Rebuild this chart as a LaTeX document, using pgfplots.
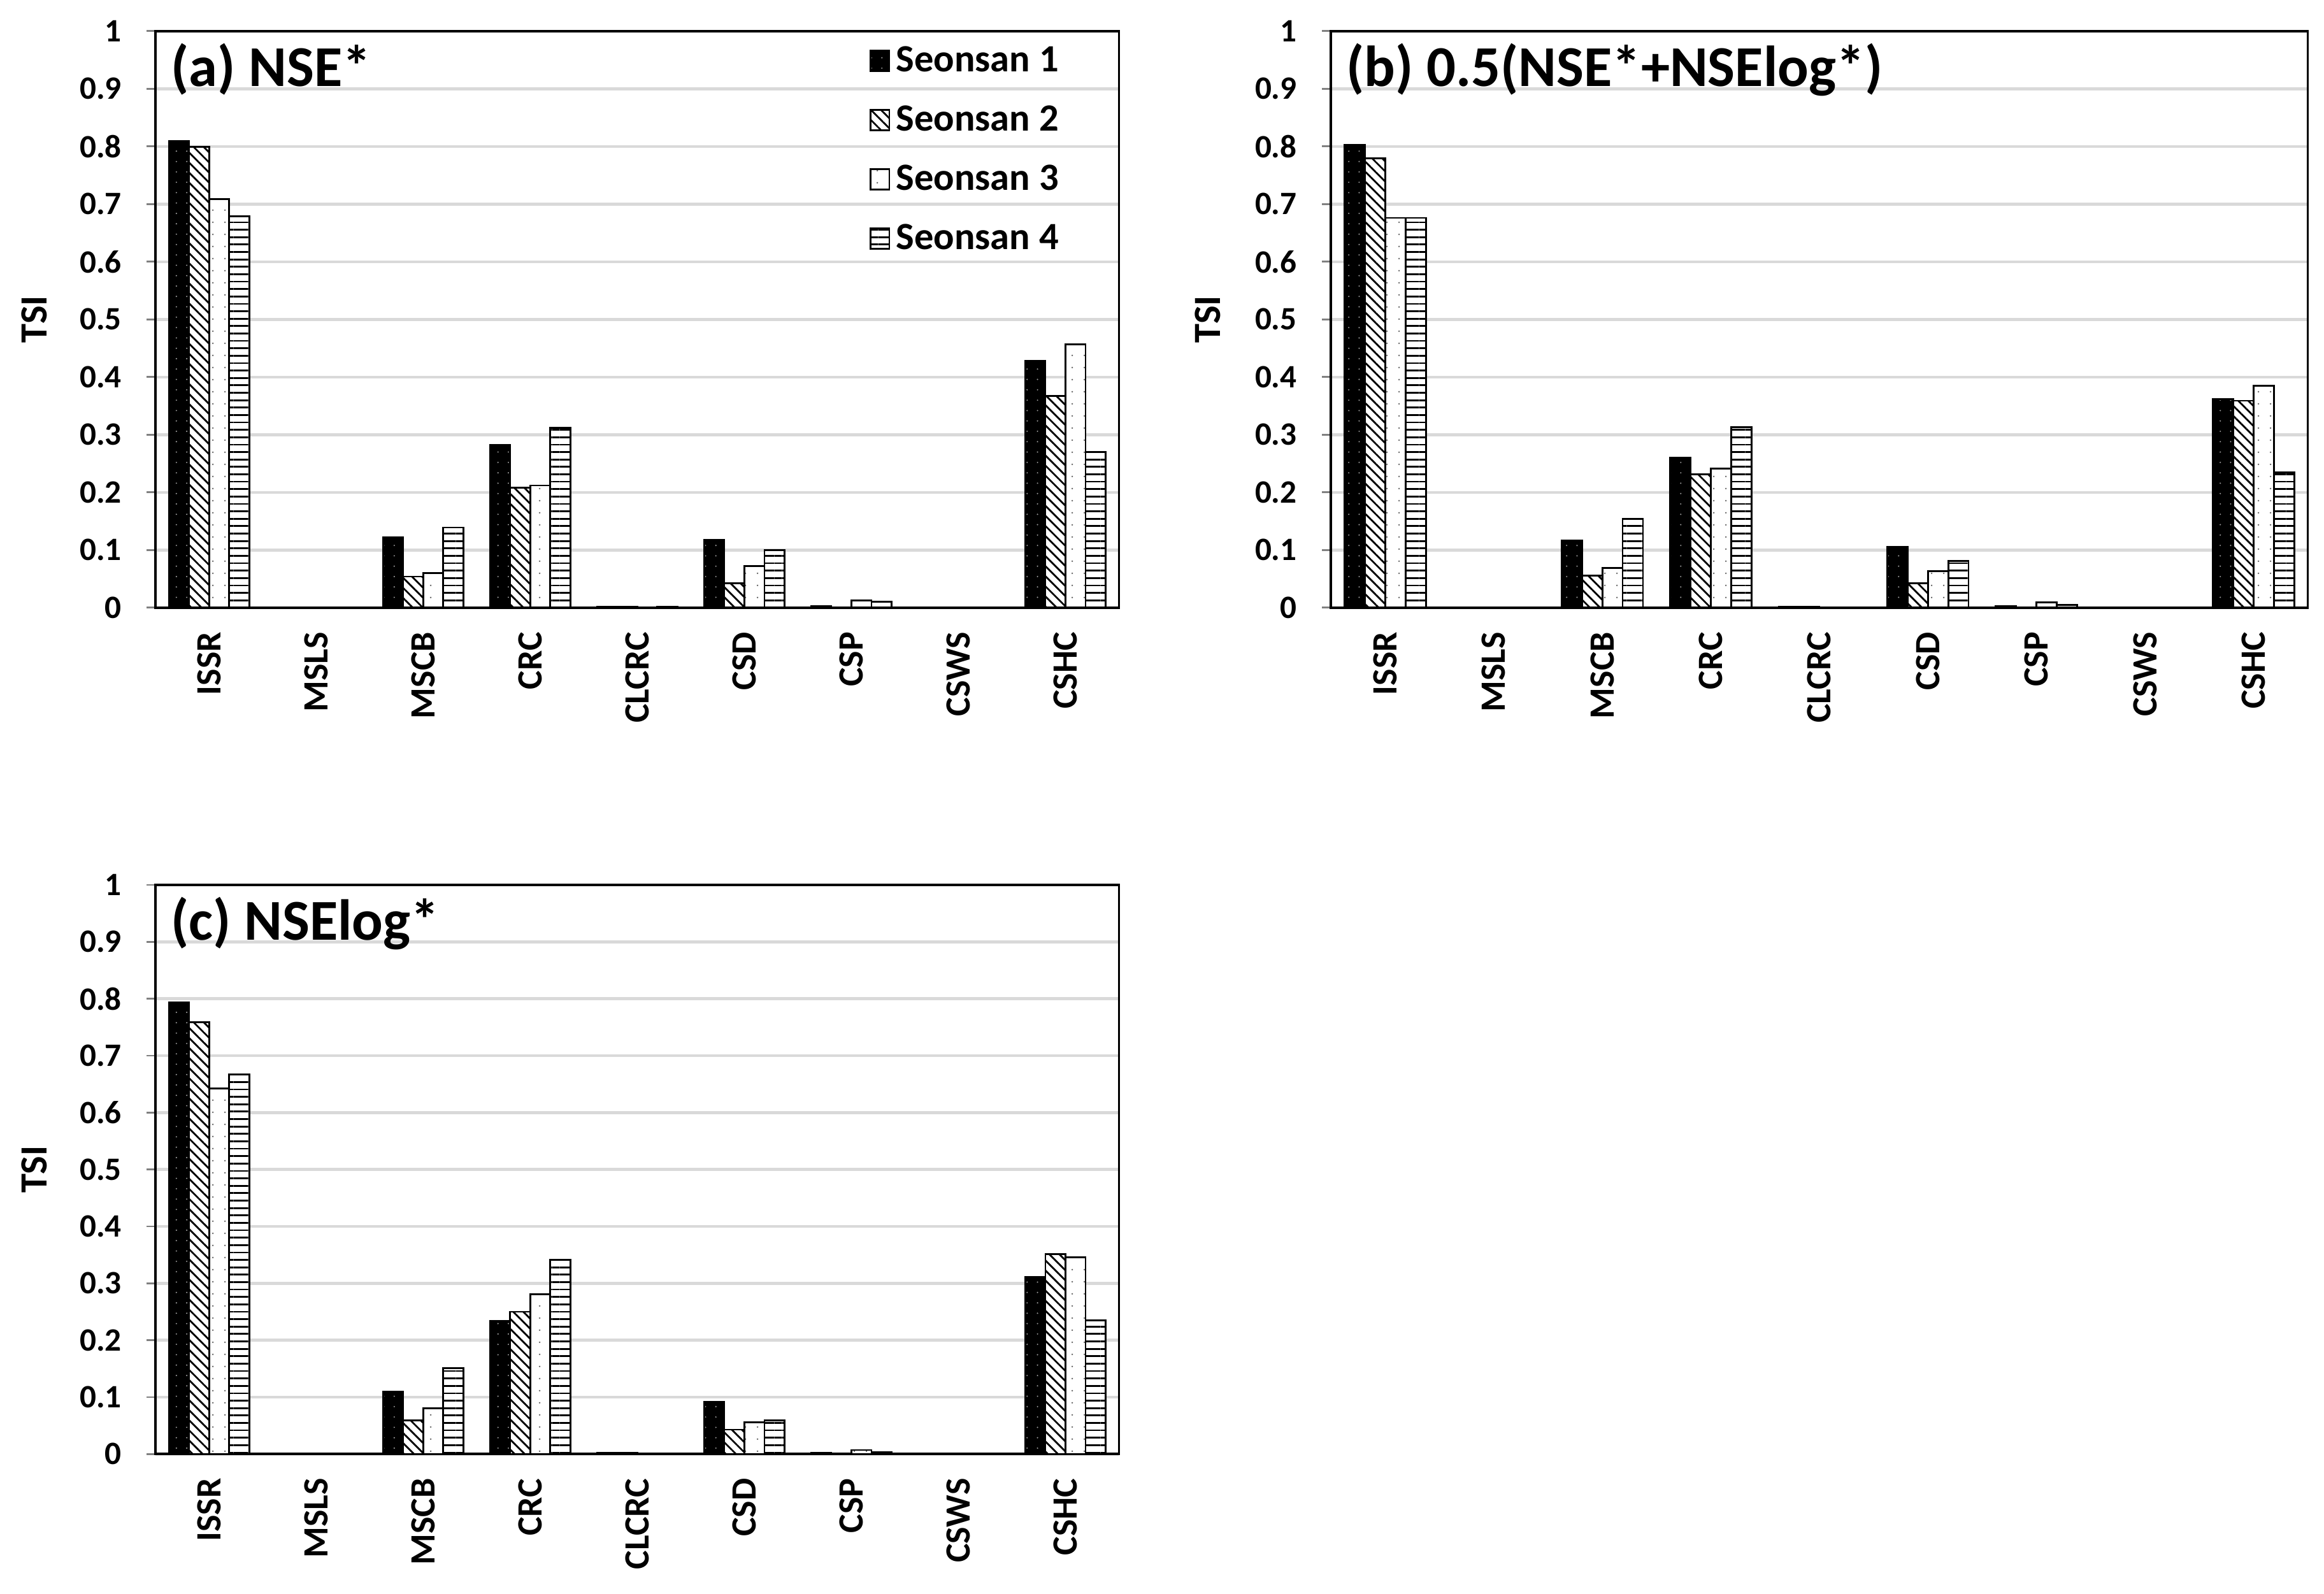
\documentclass[border=0pt]{standalone}
\usepackage{pgfplots}
\pgfplotsset{compat=1.18}
\usepackage{pgfplotstable}
\usetikzlibrary{patterns.meta}
\usepackage{fontspec}
\setmainfont{Carlito}

\pgfplotstableread{
x s1 s2 s3 s4
0 0.809 0.799 0.709 0.679
1 0.001 0.001 0.001 0.001
2 0.122 0.054 0.060 0.139
3 0.282 0.208 0.212 0.312
4 0.002 0.002 0.001 0.002
5 0.118 0.042 0.072 0.100
6 0.003 0.001 0.013 0.010
7 0.001 0.001 0.001 0.001
8 0.428 0.367 0.457 0.270
}\tableA
\pgfplotstableread{
x s1 s2 s3 s4
0 0.803 0.779 0.676 0.676
1 0.001 0.001 0.001 0.001
2 0.117 0.056 0.069 0.154
3 0.260 0.231 0.241 0.313
4 0.002 0.002 0.001 0.001
5 0.106 0.042 0.063 0.081
6 0.003 0.001 0.009 0.005
7 0.001 0.001 0.001 0.001
8 0.362 0.359 0.385 0.235
}\tableB
\pgfplotstableread{
x s1 s2 s3 s4
0 0.793 0.759 0.642 0.667
1 0.001 0.001 0.001 0.001
2 0.110 0.059 0.080 0.151
3 0.234 0.250 0.281 0.341
4 0.002 0.002 0.001 0.001
5 0.092 0.043 0.056 0.059
6 0.002 0.001 0.007 0.003
7 0.001 0.001 0.001 0.001
8 0.311 0.351 0.346 0.235
}\tableC

\pgfplotsset{
  tsi/.style={
    scale only axis, width=325pt, height=194.5pt,
    xmin=-0.5, xmax=8.5, ymin=0, ymax=1,
    ytick={0,0.1,0.2,0.3,0.4,0.5,0.6,0.7,0.8,0.9,1},
    ymajorgrids, major grid style={line width=1pt, black!15},
    axis line style={line width=0.8pt},
    xtick={0,1,2,3,4,5,6,7,8},
    xticklabels={ISSR,MSLS,MSCB,CRC,CLCRC,CSD,CSP,CSWS,CSHC},
    x tick label style={rotate=90, anchor=east, inner xsep=8pt, font=\bfseries\fontsize{12}{14}\selectfont},
    xtick style={draw=none},
    y tick label style={font=\bfseries\fontsize{11}{13}\selectfont, /pgf/number format/assume math mode=true, xshift=-5pt},
    ytick pos=left, ytick align=outside, major tick length=3pt,
    ytick style={line width=0.6pt},
    ylabel={TSI},
    every axis y label/.style={at={(axis description cs:-0.126,0.5)}, rotate=90, anchor=center, font=\bfseries\fontsize{13}{15}\selectfont},
    legend style={draw=none, fill=none, at={(axis description cs:0.944,0.985)}, anchor=north east,
      font=\bfseries\fontsize{13}{15}\selectfont, row sep=6pt, inner sep=0pt},
    legend cell align=left,
  },
  bars/.style={ybar, bar width=0.1875, line width=0.6pt,
    legend image code/.code={\draw[##1, line width=0.6pt] (-1.5pt,-3.3pt) rectangle (4.9pt,3.6pt);}},
  s1/.style={bars, bar shift=-0.28125, draw=black, fill=black, postaction={pattern={Dots[distance=3.5pt, radius=0.25pt]}, pattern color=white!60!black}},
  s2/.style={bars, bar shift=-0.09375, draw=black, fill=white, postaction={pattern={Lines[angle=-45, distance=2.4pt, line width=0.6pt]}}},
  s3/.style={bars, bar shift=0.09375, draw=black, fill=white, postaction={pattern={Dots[distance=4pt, radius=0.3pt]}, pattern color=black!60}},
  s4/.style={bars, bar shift=0.28125, draw=black, fill=white, postaction={pattern={Lines[angle=0, distance=2.5pt, line width=0.6pt]}}},
}

\begin{document}
\begin{tikzpicture}
\useasboundingbox (-52.5pt,-332.5pt) rectangle (731.5pt,205pt);
\begin{axis}[tsi, at={(0pt,0pt)}, anchor=south west]
\addplot[s1] table[x=x,y=s1]{\tableA};
\addplot[s2] table[x=x,y=s2]{\tableA};
\addplot[s3] table[x=x,y=s3]{\tableA};
\addplot[s4] table[x=x,y=s4]{\tableA};
\legend{Seonsan 1,Seonsan 2,Seonsan 3,Seonsan 4}
\node[anchor=north west, inner sep=0pt, xshift=5pt, yshift=-4pt, font=\bfseries\fontsize{19.5}{21}\selectfont] at (rel axis cs:0,1) {(a) NSE*};
\end{axis}
\begin{axis}[tsi, width=329.5pt, at={(396.5pt,0pt)}, anchor=south west]
\addplot[s1] table[x=x,y=s1]{\tableB};
\addplot[s2] table[x=x,y=s2]{\tableB};
\addplot[s3] table[x=x,y=s3]{\tableB};
\addplot[s4] table[x=x,y=s4]{\tableB};
\node[anchor=north west, inner sep=0pt, xshift=5pt, yshift=-4pt, font=\bfseries\fontsize{19.5}{21}\selectfont] at (rel axis cs:0,1) {(b) 0.5(NSE*+NSElog*)};
\end{axis}
\begin{axis}[tsi, height=192pt, at={(0pt,-285.5pt)}, anchor=south west]
\addplot[s1] table[x=x,y=s1]{\tableC};
\addplot[s2] table[x=x,y=s2]{\tableC};
\addplot[s3] table[x=x,y=s3]{\tableC};
\addplot[s4] table[x=x,y=s4]{\tableC};
\node[anchor=north west, inner sep=0pt, xshift=5pt, yshift=-4pt, font=\bfseries\fontsize{19.5}{21}\selectfont] at (rel axis cs:0,1) {(c) NSElog*};
\end{axis}
\end{tikzpicture}
\end{document}
